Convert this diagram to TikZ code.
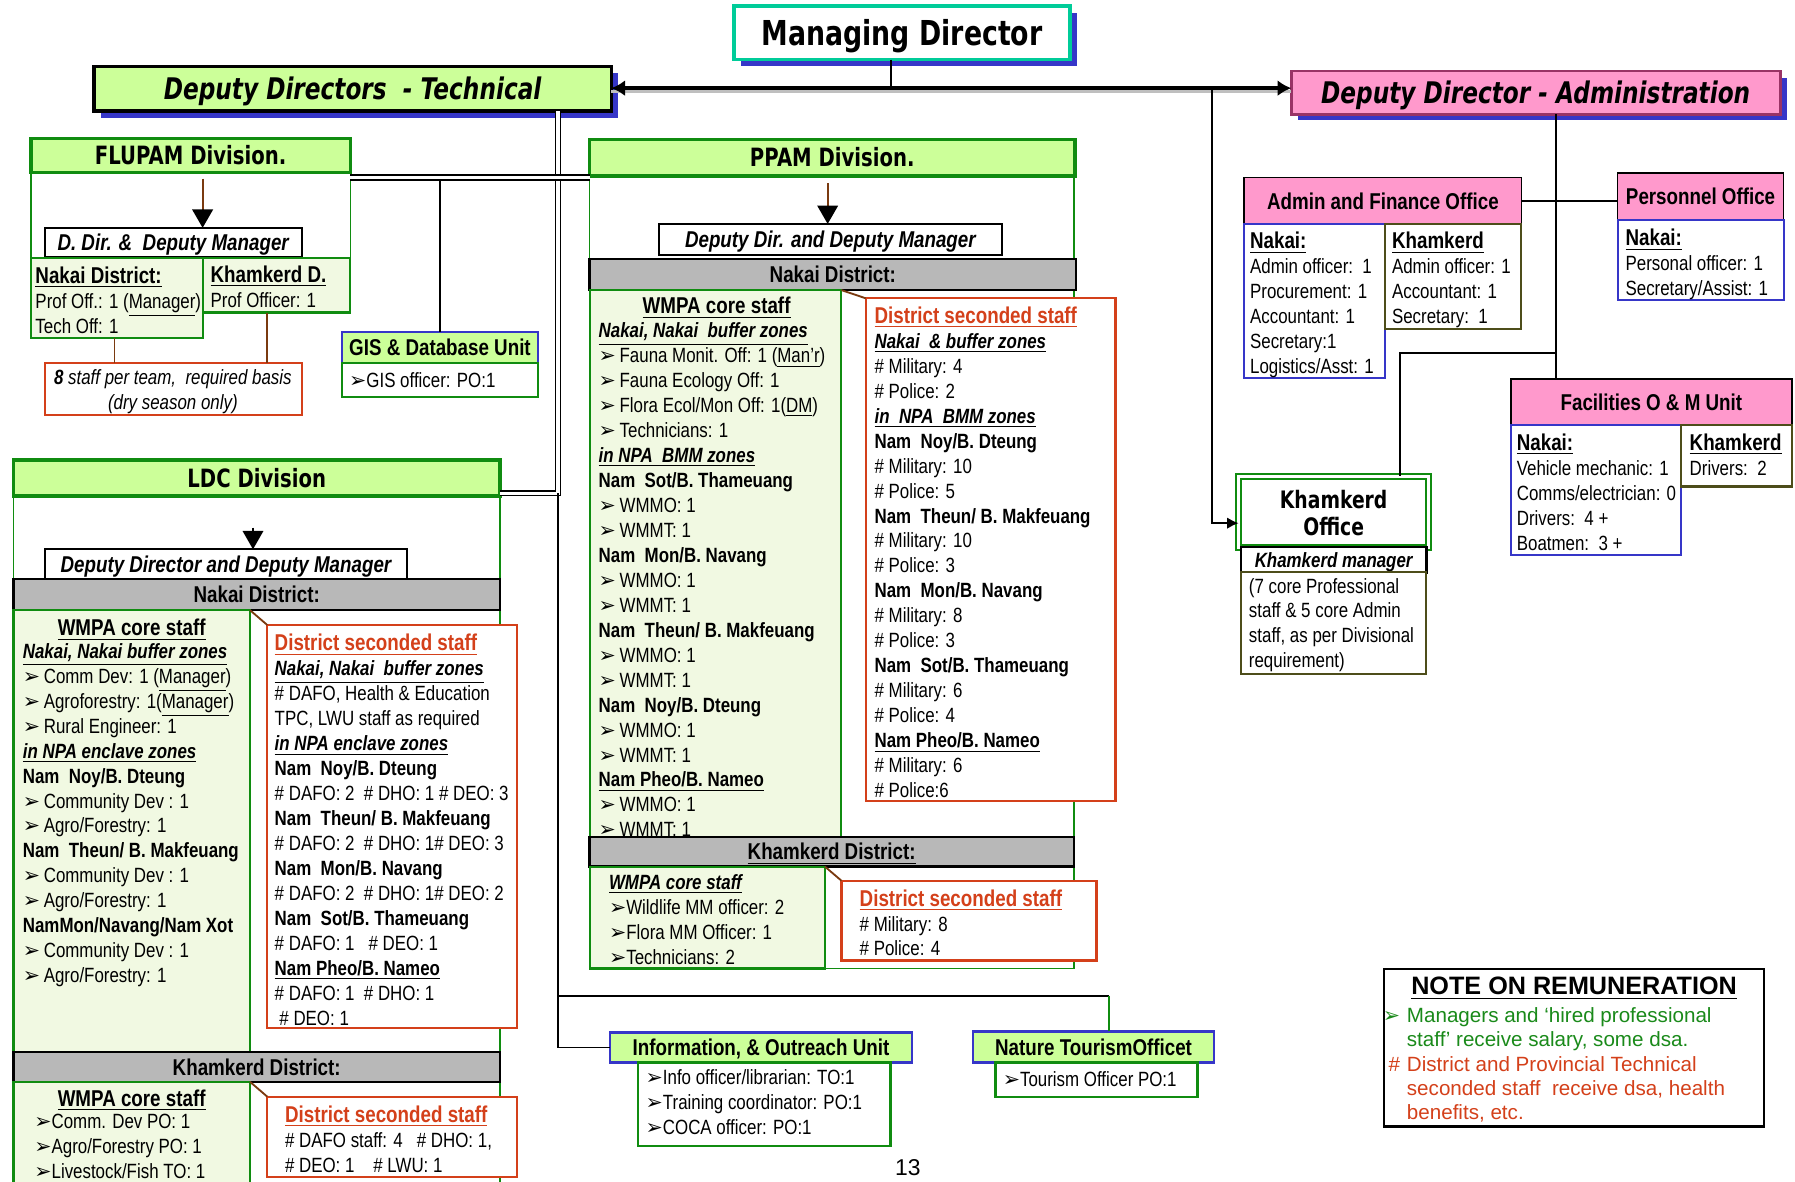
\documentclass[tikz,border=0pt]{standalone}
\usepackage{fontspec}
\setmainfont{Liberation Sans}[FakeStretch=0.82]
\newfontfamily\arialf{Liberation Sans}
\newfontfamily\titlef{DejaVu Sans}[FakeStretch=0.78]
\newfontfamily\bulf{DejaVu Sans}
\usetikzlibrary{arrows.meta}
\definecolor{lgreen}{HTML}{CCFF99}
\definecolor{dgreen}{HTML}{108C10}
\definecolor{tint}{HTML}{F1F9E2}
\definecolor{redo}{HTML}{D4401A}
\definecolor{brn}{HTML}{7A3A10}
\definecolor{bblue}{HTML}{3636C8}
\definecolor{pinkf}{HTML}{FF99CC}
\definecolor{pinkb}{HTML}{993366}
\definecolor{greyb}{HTML}{B8B8B8}
\definecolor{teal1}{HTML}{00CC99}
\definecolor{olive}{HTML}{4D4D1A}
\definecolor{notegreen}{HTML}{1A8A1A}
\newcommand\Hd[1]{{\fontsize{10}{10.9}\selectfont\bfseries #1}}
\newcommand\Rdh[1]{{\color{redo}\Hd{\underline{#1}}}}
\newcommand\Biu[1]{{\bfseries\itshape\underline{#1}}}
\newcommand\Bu{{\bulf\fontsize{9}{10.9}\selectfont ➢}\hspace{1.6pt}}
\newcommand\Bux{{\bulf\fontsize{9}{10.9}\selectfont ➢}}
\newcommand\bxn[7]{\node[#1,anchor=north west,minimum width={(#4-#2)*0.5pt},minimum height={(#5-#3)*0.5pt}] (#6) at (#2,#3) {#7};}
\newcommand\TB[5][]{\node[txt,anchor=north west,#1] (#4) at (#2,{#3-7}) {#5};}
\begin{document}
\begin{tikzpicture}[x=0.5pt,y=-0.5pt,
 every node/.style={inner sep=0pt,outer sep=0pt},
 hdrbox/.style={draw=dgreen,line width=1.4pt,fill=lgreen},
 outl/.style={draw=dgreen,line width=0.7pt},
 colbox/.style={draw=dgreen,line width=0.9pt,fill=tint},
 ddbox/.style={draw=black,line width=1pt,fill=white},
 greybar/.style={draw=black,line width=1pt,fill=greyb},
 redbox/.style={draw=redo,line width=1pt,fill=white},
 bluehdr/.style={draw=bblue,line width=1pt,fill=lgreen},
 greenbody/.style={draw=dgreen,line width=1pt,fill=white},
 pinkhdr/.style={draw=black,line width=0.8pt,fill=pinkf},
 bluebody/.style={draw=bblue,line width=0.9pt,fill=white},
 olivebody/.style={draw=olive,line width=0.9pt,fill=white},
 kobox/.style={draw=dgreen,line width=0.8pt,double=white,double distance=1.4pt},
 notebox/.style={draw=black,line width=1pt,fill=white},
 conn/.style={draw=black,line width=0.8pt},
 dbl/.style={draw=black,line width=0.6pt,double=white,double distance=1.5pt},
 brownc/.style={draw=brn,line width=0.8pt},
 tri/.style={-{Triangle[length=8pt,width=9pt,color=black]}},
 txt/.style={align=left,font=\fontsize{9}{10.9}\selectfont,execute at begin node=\strut},
 divf/.style={font=\titlef\bfseries\fontsize{11}{13}\selectfont,text height=8pt,text depth=0pt},
 hdf/.style={font=\bfseries\fontsize{10}{12}\selectfont,text height=7.2pt,text depth=0pt},
 ddf/.style={font=\bfseries\itshape\fontsize{10}{12}\selectfont,text height=7.2pt,text depth=0pt},
]
\fill[white] (0,0) rectangle (1568,1032);
\useasboundingbox (0,0) rectangle (1568,1032);

% ---------- top ----------
\fill[bblue] (647,11) rectangle (941,58);
\bxn{draw=teal1,line width=1.7pt,fill=white,font=\titlef\bfseries\fontsize{15}{18}\selectfont,text height=10.9pt,text depth=0pt}{641}{5}{935}{52}{MD}{Managing Director}
\fill[bblue] (88,64) rectangle (540,103);
\bxn{draw=black,line width=1.5pt,fill=lgreen,font=\titlef\bfseries\itshape\fontsize{13}{16}\selectfont,text height=9.5pt,text depth=0pt}{82}{58}{534}{97}{DDT}{Deputy Directors\ \ - Technical}
\fill[bblue] (1134,68) rectangle (1561,105);
\bxn{draw=pinkb,line width=1.2pt,fill=pinkf,font=\titlef\bfseries\itshape\fontsize{13}{16}\selectfont,text height=9.5pt,text depth=0pt}{1128}{62}{1555}{100}{DDA}{Deputy Director - Administration}

% ---------- body outlines ----------
\bxn{outl}{27}{151}{306}{225}{FLbody}{}
\bxn{outl}{11.8}{433.3}{436.7}{1060}{LDCbody}{}
\bxn{outl}{515}{153.7}{938}{846}{PPbody}{}

% ---------- FLUPAM ----------
\bxn{hdrbox,divf}{27}{121}{306}{151}{FLhd}{FLUPAM Division.}
\bxn{ddbox,ddf}{39}{199}{263.5}{225}{FLdd}{D. Dir. \&\ \ Deputy Manager}
\coordinate (fla) at (177,156);
\draw[brownc,tri] (fla) -- (fla |- FLdd.north);
\bxn{colbox}{27}{225}{177}{295}{FLnak}{}
\bxn{colbox}{177}{225}{306}{273}{FLkh}{}
\TB{31}{240}{FLnakT}{\Hd{\underline{Nakai District:}}\\Prof Off.: 1 (\underline{Manager})\\Tech Off: 1}
\TB{184}{239}{FLkhT}{\Hd{\underline{Khamkerd D.}}\\Prof Officer: 1}
\bxn{redbox}{39}{317}{263.5}{362.5}{FLred}{}
\node[txt,align=center,anchor=north,font=\fontsize{9}{10.9}\selectfont\itshape] (FLredT) at (151,{330-7}) {\textbf{8} staff per team,\ \ required basis\\(dry season only)};
\draw[brownc] (FLnak.south -| 100,0) -- (FLred.north -| 100,0);
\draw[brownc] (FLkh.south -| 233,0) -- (FLred.north -| 233,0);

% GIS
\bxn{bluehdr,hdf}{299}{290}{469.7}{317}{GISh}{GIS \& Database Unit}
\bxn{greenbody}{299}{317}{469.7}{347}{GISb}{}
\TB{305}{330}{GISt}{\Bux GIS officer: PO:1}

% ---------- LDC ----------
\bxn{hdrbox,divf}{11.8}{401.8}{436.7}{433.3}{LDC}{LDC Division}
\bxn{ddbox,ddf}{39}{479.8}{355.7}{506}{LDCdd}{Deputy Director and Deputy Manager}
\coordinate (ldca) at (221,461);
\draw[tri,line width=0.6pt] (ldca) -- (ldca |- LDCdd.north);
\bxn{greybar,hdf}{11.8}{506}{436.7}{533}{LDCnb}{Nakai District:}
\bxn{colbox}{11.8}{533}{218.4}{918.7}{LDCc1}{}
\bxn{redbox}{233.5}{546}{451.8}{898}{LDCr1}{}
\draw[brownc] (LDCc1.north east) -- (LDCr1.north west);
\node[txt,anchor=north] (LDCc1h) at (115,{547-7}) {\Hd{\underline{WMPA core staff}}};
\TB{20}{569}{LDCc1t}{\Biu{Nakai, Nakai buffer zones}\\
\Bu Comm Dev: 1 (\underline{Manager})\\
\Bu Agroforestry: 1(\underline{Manager})\\
\Bu Rural Engineer: 1\\
\Biu{in NPA enclave zones}\\
\textbf{Nam\ \ Noy/B. Dteung}\\
\Bu Community Dev : 1\\
\Bu Agro/Forestry: 1\\
\textbf{Nam\ \ Theun/ B. Makfeuang}\\
\Bu Community Dev : 1\\
\Bu Agro/Forestry: 1\\
\textbf{NamMon/Navang/Nam Xot}\\
\Bu Community Dev : 1\\
\Bu Agro/Forestry: 1}
\TB{240}{561}{LDCr1t}{\Rdh{District seconded staff}\\
\Biu{Nakai, Nakai\ \ buffer zones}\\
\# DAFO, Health \& Education\\
TPC, LWU staff as required\\
\Biu{in NPA enclave zones}\\
\textbf{Nam\ \ Noy/B. Dteung}\\
\# DAFO: 2\ \ \# DHO: 1 \# DEO: 3\\
\textbf{Nam\ \ Theun/ B. Makfeuang}\\
\# DAFO: 2\ \ \# DHO: 1\# DEO: 3\\
\textbf{Nam\ \ Mon/B. Navang}\\
\# DAFO: 2\ \ \# DHO: 1\# DEO: 2\\
\textbf{Nam\ \ Sot/B. Thameuang}\\
\# DAFO: 1\ \ \ \# DEO: 1\\
\textbf{\underline{Nam Pheo/B. Nameo}}\\
\# DAFO: 1\ \ \# DHO: 1\\
\ \# DEO: 1}
\bxn{greybar,hdf}{11.8}{918.7}{436.7}{945}{LDCkb}{Khamkerd District:}
\bxn{colbox}{11.8}{945}{218.4}{1060}{LDCc2}{}
\bxn{redbox}{233.5}{958}{451.8}{1028}{LDCr2}{}
\draw[brownc] (LDCc2.north east) -- (LDCr2.north west);
\node[txt,anchor=north] (LDCc2h) at (115,{958-7}) {\Hd{\underline{WMPA core staff}}};
\TB{30}{980}{LDCc2t}{\Bux Comm. Dev PO: 1\\ \Bux Agro/Forestry PO: 1\\ \Bux Livestock/Fish TO: 1}
\TB{249}{973}{LDCr2t}{\Rdh{District seconded staff}\\ \# DAFO staff: 4\ \ \ \# DHO: 1,\\ \# DEO: 1\ \ \ \ \# LWU: 1}

% ---------- PPAM ----------
\bxn{hdrbox,divf}{515}{121.7}{939}{153.7}{PPhd}{PPAM Division.}
\bxn{ddbox,ddf}{575.7}{195.6}{875}{222.7}{PPdd}{Deputy Dir. and Deputy Manager}
\coordinate (ppa) at (723,160);
\draw[brownc,tri] (ppa) -- (ppa |- PPdd.north);
\bxn{greybar,hdf}{515}{226}{940}{253.4}{PPnb}{Nakai District:}
\bxn{colbox}{515}{253.4}{735}{731}{PPc1}{}
\bxn{redbox}{756.3}{260.6}{974.4}{699.4}{PPr1}{}
\draw[brownc] (PPc1.north east) -- (PPr1.north west);
\node[txt,anchor=north] (PPc1h) at (626,{266-7}) {\Hd{\underline{WMPA core staff}}};
\TB{523}{289}{PPc1t}{\Biu{Nakai, Nakai\ \ buffer zones}\\
\Bu Fauna Monit. Off: 1 (\underline{Man’r})\\
\Bu Fauna Ecology Off: 1\\
\Bu Flora Ecol/Mon Off: 1(\underline{DM})\\
\Bu Technicians: 1\\
\Biu{in NPA\ \ BMM zones}\\
\textbf{Nam\ \ Sot/B. Thameuang}\\
\Bu WMMO: 1\\
\Bu WMMT: 1\\
\textbf{Nam\ \ Mon/B. Navang}\\
\Bu WMMO: 1\\
\Bu WMMT: 1\\
\textbf{Nam\ \ Theun/ B. Makfeuang}\\
\Bu WMMO: 1\\
\Bu WMMT: 1\\
\textbf{Nam\ \ Noy/B. Dteung}\\
\Bu WMMO: 1\\
\Bu WMMT: 1\\
\textbf{\underline{Nam Pheo/B. Nameo}}\\
\Bu WMMO: 1\\
\Bu WMMT: 1}
\TB{764}{275}{PPr1t}{\Rdh{District seconded staff}\\
\Biu{Nakai\ \ \& buffer zones}\\
\# Military: 4\\
\# Police: 2\\
\Biu{in\ \ NPA\ \ BMM zones}\\
\textbf{Nam\ \ Noy/B. Dteung}\\
\# Military: 10\\
\# Police: 5\\
\textbf{Nam\ \ Theun/ B. Makfeuang}\\
\# Military: 10\\
\# Police: 3\\
\textbf{Nam\ \ Mon/B. Navang}\\
\# Military: 8\\
\# Police: 3\\
\textbf{Nam\ \ Sot/B. Thameuang}\\
\# Military: 6\\
\# Police: 4\\
\textbf{\underline{Nam Pheo/B. Nameo}}\\
\# Military: 6\\
\# Police:6}
\bxn{greybar,hdf}{515}{731}{938}{757}{PPkb}{\underline{Khamkerd District:}}
\bxn{colbox}{515}{757}{720.6}{846}{PPc2}{}
\bxn{redbox}{735}{769.3}{957.8}{839}{PPr2}{}
\draw[brownc] (PPc2.north east) -- (PPr2.north west);
\TB{532}{771}{PPc2t}{\Biu{WMPA core staff}\\ \Bux Wildlife MM officer: 2\\ \Bux Flora MM Officer: 1\\ \Bux Technicians: 2}
\TB{751}{784}{PPr2t}{\Rdh{District seconded staff}\\ \# Military: 8\\ \# Police: 4}

% ---------- Administration ----------
\bxn{pinkhdr,hdf}{1087}{155}{1329}{196}{AF}{Admin and Finance Office}
\bxn{bluebody}{1087}{196}{1210}{330}{AFn}{}
\bxn{olivebody}{1210}{196}{1329}{287}{AFk}{}
\TB{1092}{210}{AFnt}{\Hd{\underline{Nakai:}}\\ Admin officer:\ \ 1\\ Procurement: 1\\ Accountant: 1\\ Secretary:1\\ Logistics/Asst: 1}
\TB{1216}{210}{AFkt}{\Hd{\underline{Khamkerd}}\\ Admin officer: 1\\ Accountant: 1\\ Secretary:\ \ 1}
\bxn{pinkhdr,hdf}{1413}{151}{1558}{192}{PO}{Personnel Office}
\bxn{bluebody}{1413}{192}{1558}{262}{POb}{}
\TB{1420}{207}{POt}{\Hd{\underline{Nakai:}}\\ Personal officer: 1\\ Secretary/Assist: 1}
\bxn{pinkhdr,hdf}{1320}{331}{1565}{371}{FAC}{Facilities O \& M Unit}
\bxn{bluebody}{1320}{371}{1468}{485}{FACn}{}
\bxn{olivebody}{1468}{371}{1565}{425}{FACk}{}
\TB{1325}{386}{FACnt}{\Hd{\underline{Nakai:}}\\ Vehicle mechanic: 1\\ Comms/electrician: 0\\ Drivers:\ \ 4 +\\ Boatmen:\ \ 3 +}
\TB{1476}{386}{FACkt}{\Hd{\underline{Khamkerd}}\\ Drivers:\ \ 2}
\bxn{kobox}{1082}{416}{1248}{478}{KO}{}
\node[align=center,font=\titlef\bfseries\fontsize{10.5}{12}\selectfont] (KOt) at (1165,448) {Khamkerd\\Office};
\bxn{ddbox,font=\bfseries\itshape\fontsize{9}{11}\selectfont,text height=6.5pt,text depth=0pt}{1084}{478}{1246}{500}{KM}{Khamkerd manager}
\bxn{olivebody}{1084}{500}{1246}{589}{KD}{}
\TB{1091}{512}{KDt}{(7 core Professional\\ staff \& 5 core Admin\\ staff, as per Divisional\\ requirement)}

% ---------- bottom units ----------
\bxn{bluehdr,hdf}{533}{902}{796.5}{928}{Info}{Information, \& Outreach Unit}
\bxn{greenbody}{557}{928}{777.8}{1001}{Infob}{}
\TB{564}{941}{Infot}{\Bux Info officer/librarian: TO:1\\ \Bux Training coordinator: PO:1\\ \Bux COCA officer: PO:1}
\bxn{bluehdr,hdf}{850}{901}{1060.5}{928}{NTO}{Nature TourismOfficet}
\bxn{greenbody}{869.5}{928}{1046}{958}{NTOb}{}
\TB{876}{941}{NTOt}{\Bux Tourism Officer PO:1}

% ---------- note ----------
\bxn{notebox}{1209}{846.4}{1541}{984}{NOTE}{}
\node[font=\arialf\bfseries\fontsize{11}{13}\selectfont,anchor=base] (NOTEh) at (1375,869) {\underline{NOTE ON REMUNERATION}};
\TB[font=\arialf\fontsize{9}{10.65}\selectfont]{1229}{887}{NOTEt}{%
\llap{{\color{notegreen}\Bux}\hspace{3pt}}{\color{notegreen}Managers and ‘hired professional}\\
{\color{notegreen}staff’ receive salary, some dsa.}\\
\llap{{\color{redo}\#}\hspace{3pt}}{\color{redo}District and Provincial Technical}\\
{\color{redo}seconded staff\ \ receive dsa, health}\\
{\color{redo}benefits, etc.}}
\node[font=\arialf\fontsize{10}{12}\selectfont,anchor=north] (pg) at (793,1013) {13};

% ---------- connectors ----------
\coordinate (hub) at (778,77);
\coordinate (hubs) at (778,80);
\draw[conn] (MD.south -| hub) -- (hub);
\draw[gray!50,line width=1.2pt] (DDT.east |- hubs) -- (DDA.west |- hubs);
\draw[line width=2pt,{Latex[length=6pt,width=7pt]}-{Latex[length=6pt,width=7pt]}] (DDT.east |- hub) -- (DDA.west |- hub);
\coordinate (kj) at (1059,77);
\draw[conn,-{Latex[length=5pt,width=5pt]}] (kj) |- (KO.west |- 0,457);
\coordinate (ad) at (1359,0);
\draw[conn] (DDA.south -| ad) -- (FAC.north -| ad);
\draw[conn] (AF.east) -- (PO.west |- AF.east);
\coordinate (kb) at (1223,308);
\draw[conn] (kb -| ad) -- (kb) -- (KO.north -| kb);
\coordinate (tj) at (487.6,431);
\coordinate (fj) at (487.6,155);
\draw[dbl] (DDT.south -| tj) -- (tj) -- (LDC.east |- tj);
\draw[dbl] (FLhd.east |- fj) -- (PPhd.west |- fj);
\coordinate (gj) at (384.5,156.5);
\draw[conn] (GISh.north -| gj) -- (gj);
\coordinate (bj) at (487.6,870);
\coordinate (nj) at (969,870);
\draw[conn] (tj) -- (tj |- Info.west) -- (Info.west);
\draw[conn,line width=1.1pt] (bj) -- (nj);
\draw[draw=dgreen,line width=0.8pt] (nj) -- (NTO.north -| nj);
\end{tikzpicture}
\end{document}
